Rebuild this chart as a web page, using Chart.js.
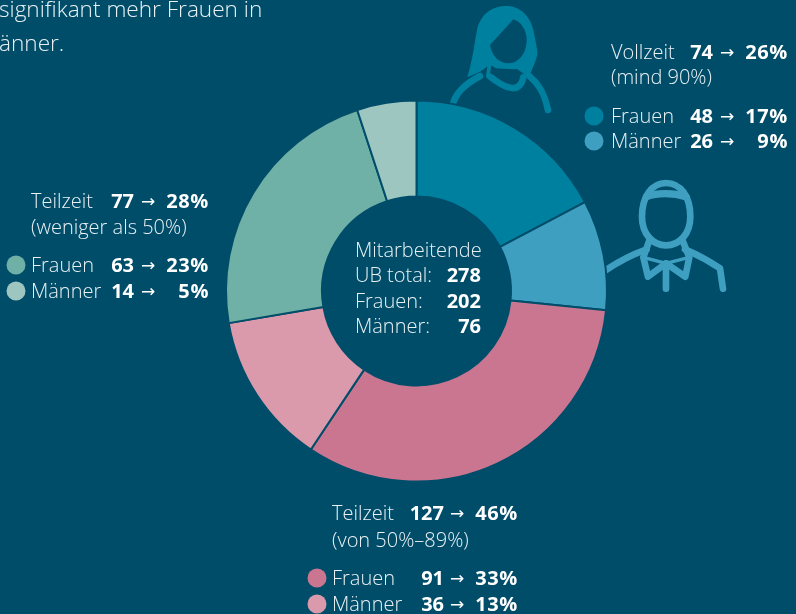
<!DOCTYPE html>
<html><head><meta charset="utf-8">
<script src="https://cdn.jsdelivr.net/npm/chart.js@4"></script>
<style>
html,body{margin:0;padding:0;background:#004d6a;overflow:hidden}
#wrap{position:relative;width:796px;height:614px;background:#004d6a;overflow:hidden;font-family:"Open Sans","Noto Sans",sans-serif;font-weight:300;color:#e9f1f4}
#icons{position:absolute;left:0;top:0}
canvas{position:absolute;left:0;top:0}
.t{position:absolute;white-space:nowrap;font-size:20px;line-height:24px;transform:translateY(-50%)}
.b{font-weight:700;color:#fff}
.r{transform:translate(-100%,-50%)}
.a{font-family:"DejaVu Sans";font-weight:400;color:#fff;font-size:17px}
.dot{position:absolute;width:19px;height:19px;border-radius:50%;transform:translate(-50%,-50%)}
</style></head><body>
<div id="wrap">
<svg id="icons" width="796" height="614" viewBox="0 0 796 614">
 <g transform="translate(430,0) scale(0.3333)" fill="none" stroke-linecap="round" stroke-linejoin="round">
  <g stroke="#00809f" stroke-width="20">
   <path d="M66,325 C72,278 110,250 150,228"/>
   <path d="M298,228 C330,255 345,285 354,330"/>
   <path d="M182,200 L178,228 C205,250 235,266 255,264 C270,260 278,245 280,232"/>
  </g>
  <path fill="#00809f" d="M112,232 C130,170 133,130 140,95 C150,40 190,18 228,18 C275,18 305,55 312,100 C318,130 323,150 322,165 C316,190 304,212 296,232 L262,208 L190,205 L178,195 L150,215 Z"/>
  <path fill="#004d6a" d="M180,135 L250,58 C275,65 292,95 290,125 C288,165 262,190 235,190 C205,190 185,165 180,135 Z"/>
  <path fill="#004d6a" d="M184,196 C205,215 245,215 262,208 L272,222 C250,245 215,235 180,220 Z"/>
  <g stroke="#3f9fc0" stroke-width="20">
   <path d="M636,650 C636,590 665,549 708,549 C752,549 781,590 781,650 C781,700 750,736 708,736 C667,736 636,700 636,650 Z"/>
   <path d="M650,590 C680,578 730,578 768,590" stroke-width="22"/>
   <path d="M525,812 C570,782 610,762 650,748"/>
   <path d="M765,748 C805,765 840,785 870,805 L879,866"/>
   <path d="M658,722 L640,772 L654,830 L708,790 L766,830 L778,772 L758,722"/>
   <path d="M708,790 L708,866"/>
   <path d="M640,772 L708,790 L778,772" stroke-width="10"/>
  </g>
 </g>
</svg>
<canvas id="c" width="796" height="614"></canvas>
</div>
<script>
const categories = ["Vollzeit Frauen","Vollzeit Männer","Teilzeit 50–89 Frauen","Teilzeit 50–89 Männer","Teilzeit <50 Frauen","Teilzeit <50 Männer"];
const values = [48,26,91,36,63,14];
const percents = [17,9,33,13,23,5];
const groupTotals = [74,127,77];
const groupPercents = [26,46,28];
const colors = ["#00809f","#3f9fc0","#cb7690","#db9aab","#6fb1a6","#9dc6c0"];
const bg = "#004d6a";

new Chart(document.getElementById("c"),{
  type:"doughnut",
  data:{labels:categories,datasets:[{data:values,backgroundColor:colors,borderColor:bg,borderWidth:2,borderAlign:"center"}]},
  options:{responsive:false,animation:false,radius:190.5,cutout:"49.6%",
    layout:{padding:{left:37,bottom:32}},
    plugins:{legend:{display:false},tooltip:{enabled:false}}}
});

const wrap=document.getElementById("wrap");
function T(x,y,s,cls,size,ls){
  const d=document.createElement("div");
  d.className="t "+(cls||"");
  d.style.left=x+"px";d.style.top=y+"px";d.textContent=s;
  if(size)d.style.fontSize=size+"px";
  if(ls)d.style.letterSpacing=ls+"px";
  wrap.appendChild(d);
}
function dot(x,y,c){const d=document.createElement("div");d.className="dot";d.style.left=x+"px";d.style.top=y+"px";d.style.background=c;wrap.appendChild(d);}
function row(y,label,lx,n,p,nx,ax,px){
  T(lx,y,label);
  T(nx,y,String(n),"b r");
  T(ax,y,"→","a");
  T(px,y,p+"%","b r",null,0.6);
}
T(-1,9,"signifikant mehr Frauen in","",22.6);
T(-1,43,"änner.","",22.6);

row(52,"Vollzeit",611,groupTotals[0],groupPercents[0],713,720,788);
T(611,77,"(mind 90%)");
row(116,"Frauen",611,values[0],percents[0],713,720,788);
row(141,"Männer",611,values[1],percents[1],713,720,788);
dot(594,116,colors[0]);dot(594,141,colors[1]);

row(201,"Teilzeit",31,groupTotals[2],groupPercents[2],134,141,209);
T(31,227,"(weniger als 50%)");
row(265,"Frauen",31,values[4],percents[4],134,141,209);
row(291,"Männer",31,values[5],percents[5],134,141,209);
dot(15.5,265,colors[4]);dot(15.5,291,colors[5]);

row(513,"Teilzeit",332,groupTotals[1],groupPercents[1],444,450,518);
T(332,540,"(von 50%–89%)");
row(578,"Frauen",332,values[2],percents[2],444,450,518);
row(604,"Männer",332,values[3],percents[3],444,450,518);
dot(317,578,colors[2]);dot(317,604,colors[3]);

T(355,250,"Mitarbeitende");
T(355,275,"UB total:");T(481,275,"278","b r");
T(355,301,"Frauen:");T(481,301,"202","b r");
T(355,326,"Männer:");T(481,326,"76","b r");
</script>
</body></html>
